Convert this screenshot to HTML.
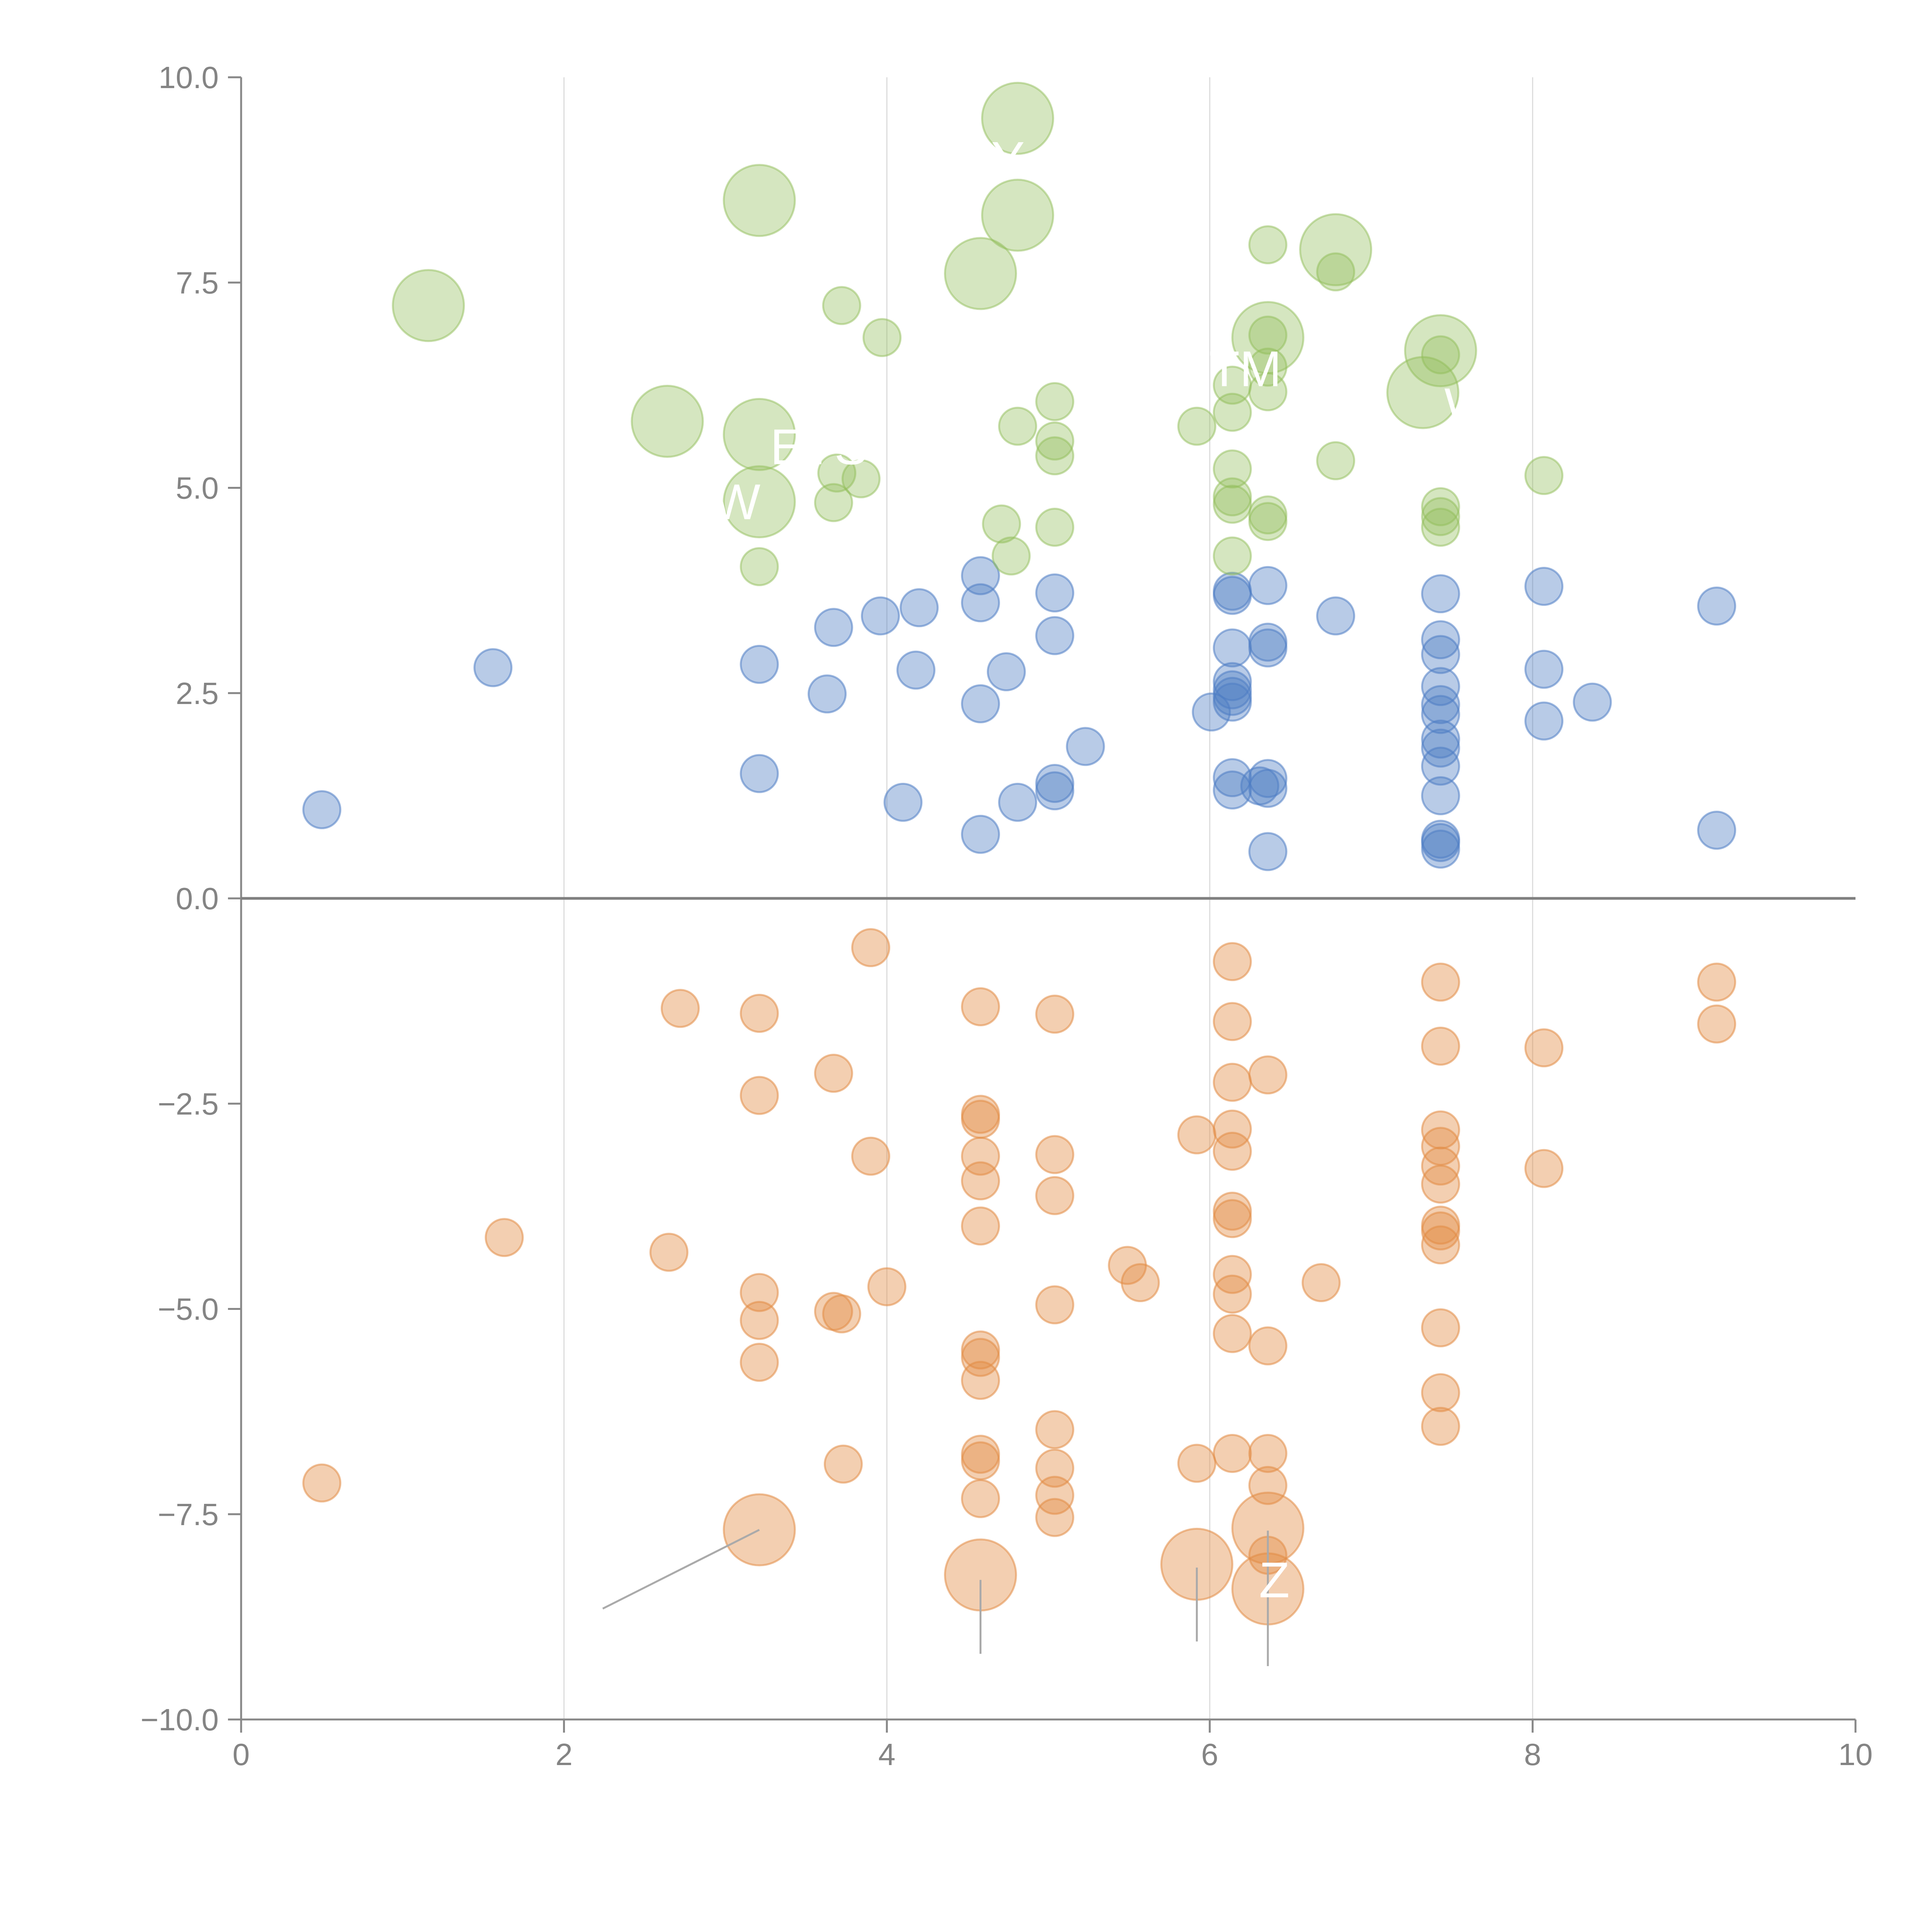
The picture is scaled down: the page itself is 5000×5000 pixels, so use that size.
<!DOCTYPE html>
<html><head><meta charset="utf-8"><style>
html,body{margin:0;padding:0;background:#fff;}
svg{display:block;font-family:"Liberation Sans",Arial,sans-serif;}
</style></head>
<body>
<svg id="chart" width="5000" height="5000" viewBox="0 0 5000 5000" xmlns="http://www.w3.org/2000/svg">
<rect width="5000" height="5000" fill="#fff"/>
<g id="grid"></g>
<g id="axes"></g>
<g id="marks"></g>
<g id="annot"></g>
</svg>
<script>
const xTicks=[0,2,4,6,8,10];
const xTickLabels=["0","2","4","6","8","10"];
const yTicks=[10,7.5,5,2.5,0,-2.5,-5,-7.5,-10];
const yTickLabels=["10.0","7.5","5.0","2.5","0.0","\u22122.5","\u22125.0","\u22127.5","\u221210.0"];
const blueX=[0.5,1.56,3.21,3.21,3.63,3.67,3.96,4.10,4.18,4.20,4.58,4.58,4.58,4.58,4.74,4.81,5.04,5.04,5.04,5.04,5.23,6.01,6.14,6.14,6.14,6.14,6.14,6.14,6.14,6.14,6.14,6.36,6.36,6.36,6.36,6.36,6.31,6.36,6.78,7.43,7.43,7.43,7.43,7.43,7.43,7.43,7.43,7.43,7.43,7.43,7.43,7.43,8.07,8.07,8.07,8.37,9.14,9.14];
const blueY=[1.08,2.81,2.85,1.52,2.49,3.30,3.44,1.17,2.78,3.54,3.93,3.60,2.37,0.78,2.76,1.17,3.72,3.20,1.40,1.31,1.85,2.27,3.74,3.69,3.05,2.64,2.54,2.46,2.39,1.47,1.32,3.81,3.12,3.05,1.46,1.34,1.37,0.57,3.44,3.71,3.15,2.97,2.58,2.36,2.24,1.94,1.83,1.61,1.25,0.72,0.68,0.60,3.80,2.79,2.16,2.39,3.56,0.83];
const greenX=[1.16,2.64,3.21,3.21,3.21,3.21,3.67,3.69,3.84,3.72,3.97,4.58,4.81,4.81,4.81,4.71,4.77,5.04,5.04,5.04,5.04,5.92,6.14,6.14,6.14,6.14,6.14,6.14,6.36,6.36,6.36,6.36,6.36,6.36,6.36,6.78,6.78,6.78,7.32,7.43,7.43,7.43,7.43,7.43,8.07];
const greenY=[7.22,5.81,8.50,5.65,4.83,4.04,4.82,5.18,5.11,7.22,6.83,7.61,9.50,8.32,5.75,4.56,4.17,6.05,5.57,5.39,4.52,5.75,6.25,5.92,5.23,4.89,4.80,4.17,7.96,6.83,6.86,6.47,6.17,4.67,4.59,7.90,7.63,5.33,6.16,6.67,6.62,4.77,4.65,4.52,5.15];
const greenSize=[2,2,2,2,2,1,1,1,1,1,1,2,2,2,1,1,1,1,1,1,1,1,1,1,1,1,1,1,1,2,1,1,1,1,1,2,1,1,2,2,1,1,1,1,1];
const orangeX=[0.5,1.63,2.65,2.72,3.21,3.21,3.21,3.21,3.21,3.21,3.67,3.67,3.72,3.73,3.90,3.90,4.0,4.58,4.58,4.58,4.58,4.58,4.58,4.58,4.58,4.58,4.58,4.58,4.58,4.58,5.04,5.04,5.04,5.04,5.04,5.04,5.04,5.04,5.49,5.57,5.92,5.92,5.92,6.14,6.14,6.14,6.14,6.14,6.14,6.14,6.14,6.14,6.14,6.14,6.36,6.36,6.36,6.36,6.36,6.36,6.36,6.69,7.43,7.43,7.43,7.43,7.43,7.43,7.43,7.43,7.43,7.43,7.43,7.43,8.07,8.07,9.14,9.14];
const orangeY=[-7.12,-4.13,-4.31,-1.34,-1.40,-2.40,-4.80,-5.14,-5.65,-7.69,-2.13,-5.03,-5.06,-6.89,-0.60,-3.14,-4.73,-1.32,-2.63,-2.69,-3.14,-3.44,-3.99,-5.50,-5.59,-5.87,-6.77,-6.85,-7.31,-8.24,-1.41,-3.12,-3.62,-4.95,-6.47,-6.94,-7.27,-7.54,-4.47,-4.68,-2.88,-6.88,-8.11,-0.77,-1.50,-2.24,-2.81,-3.08,-3.81,-3.90,-4.58,-4.82,-5.30,-6.76,-2.15,-5.45,-6.76,-7.15,-7.67,-8.00,-8.41,-4.68,-1.02,-1.80,-2.82,-3.02,-3.26,-3.48,-3.98,-4.05,-4.22,-5.23,-6.02,-6.43,-1.82,-3.29,-1.02,-1.53];
const orangeSize=[1,1,1,1,1,1,1,1,1,2,1,1,1,1,1,1,1,1,1,1,1,1,1,1,1,1,1,1,1,2,1,1,1,1,1,1,1,1,1,1,1,1,2,1,1,1,1,1,1,1,1,1,1,1,1,1,1,1,2,1,2,1,1,1,1,1,1,1,1,1,1,1,1,1,1,1,1,1];

const X0=624,X1=4802,Y0=4450,Y1=200;
function sx(v){return X0+(v-0)/(10-0)*(X1-X0);}
function sy(v){return Y0-(v+10)/20*(Y0-Y1);}
const NS="http://www.w3.org/2000/svg";
function mk(tag,attrs,parent){const e=document.createElementNS(NS,tag);for(const k in attrs)e.setAttribute(k,attrs[k]);parent.appendChild(e);return e;}
const grid=document.getElementById('grid'),axes=document.getElementById('axes'),marks=document.getElementById('marks'),annot=document.getElementById('annot');

xTicks.forEach((t,i)=>{
  if(t>0&&t<10){const g=mk('line',{x1:sx(t),x2:sx(t),y1:Y1,y2:Y0,stroke:'#dcdcdc','stroke-width':3},grid);
  
  }
  const tk=mk('line',{x1:sx(t),x2:sx(t),y1:Y0,y2:Y0+34,stroke:'#888','stroke-width':5},axes);
  
  
  const tx=mk('text',{x:sx(t),y:Y0+118,'text-anchor':'middle','font-size':80,fill:'#848484'},axes);
  tx.textContent=xTickLabels[i];
  
  
});
yTicks.forEach((t,i)=>{
  const tk=mk('line',{x1:X0-34,x2:X0,y1:sy(t),y2:sy(t),stroke:'#888','stroke-width':5},axes);
  
  
  const tx=mk('text',{x:X0-58,y:sy(t)+28,'text-anchor':'end','font-size':80,fill:'#848484'},axes);
  tx.textContent=yTickLabels[i];
  
  
});
let a=mk('line',{x1:X0,x2:X0,y1:Y1,y2:Y0,stroke:'#888','stroke-width':5},axes);


a=mk('line',{x1:X0,x2:X1,y1:Y0,y2:Y0,stroke:'#888','stroke-width':5},axes);


a=mk('line',{x1:X0,x2:X1,y1:sy(0),y2:sy(0),stroke:'#808080','stroke-width':7},axes);



function rad(s){return s===2?92:48;}
blueX.forEach((x,i)=>{
  const c=mk('circle',{cx:sx(x),cy:sy(blueY[i]),r:48,fill:'rgba(78,126,196,0.4)',stroke:'rgba(78,126,196,0.55)','stroke-width':5},marks);
  
  
});
greenX.forEach((x,i)=>{
  const c=mk('circle',{cx:sx(x),cy:sy(greenY[i]),r:rad(greenSize[i]),fill:'rgba(145,190,90,0.38)',stroke:'rgba(145,190,90,0.5)','stroke-width':5},marks);
  
  
});
orangeX.forEach((x,i)=>{
  const c=mk('circle',{cx:sx(x),cy:sy(orangeY[i]),r:rad(orangeSize[i]),fill:'rgba(226,140,70,0.42)',stroke:'rgba(226,140,70,0.55)','stroke-width':5},marks);
  
  
});

[[2.24,-8.65,3.21,-7.69],[4.58,-8.3,4.58,-9.2],[5.92,-8.15,5.92,-9.05],[6.36,-7.7,6.36,-9.35]].forEach(l=>{
  const e=mk('line',{x1:sx(l[0]),y1:sy(l[1]),x2:sx(l[2]),y2:sy(l[3]),stroke:'#aaa','stroke-width':5},annot);
  
  
});
[["W",3.07,4.83],["ETS",3.58,5.5],["TM",6.22,6.45],["W",7.6,6.0],["Y",4.75,9.0],["Z",6.4,-8.3]].forEach(t=>{
  const e=mk('text',{x:sx(t[1]),y:sy(t[2])+45,'text-anchor':'middle','font-size':130,fill:'#fff'},annot);
  e.textContent=t[0];
  
  
});
</script>
</body></html>
